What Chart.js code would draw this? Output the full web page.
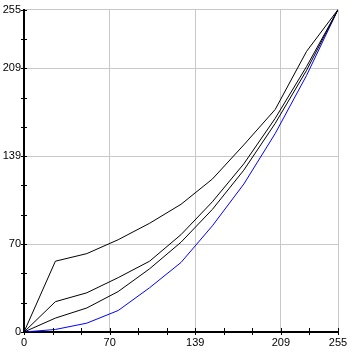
<!DOCTYPE html>
<html lang="en">
<head>
    <meta charset="UTF-8">
    <title>Curves</title>
    <script src="https://cdn.jsdelivr.net/npm/chart.js"></script>
    <style>
        html, body { margin: 0; padding: 0; background: #fff; }
        #wrap { width: 353px; height: 352px; }
    </style>
</head>
<body>
<div id="wrap"><canvas id="curveChart" width="353" height="352"></canvas></div>
<script>
    // Input levels where each curve has a point
    const inputLevels = [0, 25.5, 51, 76.5, 102, 127.5, 153, 178.5, 204, 229.5, 255];

    // Output levels
    const curveTop    = [0, 56, 62, 73, 86, 101, 121, 148, 176, 222, 255];
    const curveSecond = [0, 24, 31, 43, 56, 77, 103, 133, 169, 210, 255];
    const curveThird  = [0, 11, 19, 32, 50, 71, 97, 128, 165, 207, 255];
    const curveBlue   = [0, 2, 7, 17, 35, 55, 84, 117, 157, 203, 255];

    // Axis ticks (same on both axes), only some carry a label
    const tickValues = [0, 23.18, 46.36, 69.55, 92.73, 115.91, 139.09, 162.27, 185.45, 208.64, 231.82, 255];
    const tickLabels = ['0', '', '', '70', '', '', '139', '', '', '209', '', '255'];

    const toPoints = (ys) => ys.map((y, i) => ({ x: inputLevels[i], y: y }));

    const labelFont = { family: "'Liberation Sans', Arial, sans-serif", size: 11 };

    function axisOptions(isX) {
        return {
            type: 'linear',
            min: 0,
            max: 255,
            afterBuildTicks: (scale) => {
                scale.ticks = tickValues.map(v => ({ value: v }));
            },
            afterFit: (scale) => {
                if (isX) scale.height = 20; else scale.width = 24;
            },
            ticks: {
                autoSkip: false,
                maxRotation: 0,
                color: '#000',
                font: labelFont,
                padding: isX ? 4 : 3,
                callback: (value, index) => tickLabels[index]
            },
            grid: {
                drawTicks: false,
                lineWidth: 1,
                color: (c) => (c.tick && tickLabels[c.index] !== '' && c.index > 0) ? '#c8c8c8' : 'rgba(0,0,0,0)'
            },
            border: { display: true, color: '#000', width: 2 }
        };
    }

    // little tick marks crossing the axis lines
    const tickMarks = {
        id: 'tickMarks',
        afterDraw(chart) {
            const ctx = chart.ctx;
            const xs = chart.scales.x, ys = chart.scales.y;
            const area = chart.chartArea;
            ctx.save();
            ctx.strokeStyle = '#000';
            ctx.lineWidth = 1;
            ctx.beginPath();
            tickValues.forEach(v => {
                const px = Math.round(xs.getPixelForValue(v)) + 0.5;
                ctx.moveTo(px, area.bottom - 4);
                ctx.lineTo(px, area.bottom + 3);
                const py = Math.round(ys.getPixelForValue(v)) + 0.5;
                ctx.moveTo(area.left - 3, py);
                ctx.lineTo(area.left + 3, py);
            });
            ctx.stroke();
            ctx.restore();
        }
    };

    function lineSet(data, color) {
        return {
            data: toPoints(data),
            borderColor: color,
            borderWidth: 1,
            pointRadius: 0,
            tension: 0,
            fill: false
        };
    }

    new Chart(document.getElementById('curveChart').getContext('2d'), {
        type: 'line',
        data: {
            datasets: [
                lineSet(curveTop, '#000000'),
                lineSet(curveSecond, '#000000'),
                lineSet(curveThird, '#000000'),
                lineSet(curveBlue, '#0000ff')
            ]
        },
        options: {
            responsive: false,
            animation: false,
            devicePixelRatio: 1,
            layout: { padding: { top: 8, right: 15, left: 0, bottom: 0 } },
            plugins: {
                legend: { display: false },
                tooltip: { enabled: false }
            },
            scales: {
                x: axisOptions(true),
                y: axisOptions(false)
            }
        },
        plugins: [tickMarks]
    });
</script>
</body>
</html>
